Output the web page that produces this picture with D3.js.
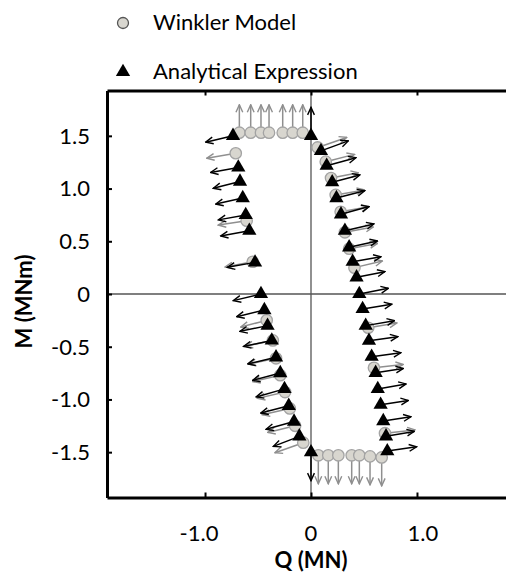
<!DOCTYPE html>
<html>
<head>
<meta charset="utf-8">
<script src="https://cdn.jsdelivr.net/npm/d3@7"></script>
<style>
  body { margin: 0; background: #fff; overflow: hidden; }
  svg { display: block; font-family: Lato, "Open Sans", sans-serif; }
</style>
</head>
<body>
<div id="chart"></div>
<script>
// Winkler model points: Q (MN), M (MNm) and the arrow (dQ, dM) drawn from each
const winklerQ = [-0.676, -0.569, -0.472, -0.396, -0.267, -0.173, -0.078,
  0.063, 0.139, 0.189, 0.233, 0.28, 0.32, 0.36, 0.41,
  0.54, 0.594, 0.698,
  0.069, 0.163, 0.258, 0.384, 0.456, 0.557, 0.667,
  -0.073, -0.15, -0.20, -0.245, -0.29, -0.33, -0.36, -0.418,
  -0.55, -0.607, -0.71];
const winklerM = [1.53, 1.53, 1.53, 1.53, 1.53, 1.53, 1.53,
  1.39, 1.255, 1.10, 0.94, 0.78, 0.585, 0.43, 0.25,
  -0.32, -0.70, -1.32,
  -1.53, -1.53, -1.53, -1.53, -1.53, -1.54, -1.55,
  -1.41, -1.25, -1.085, -0.93, -0.77, -0.61, -0.44, -0.25,
  0.306, 0.695, 1.335];
const winklerDQ = [0, 0, 0, 0, 0, 0, 0,
  0.274, 0.271, 0.258, 0.271, 0.267, 0.267, 0.267, 0.264,
  0.27, 0.276, 0.283,
  0, 0, 0, 0, 0, 0, 0,
  -0.267, -0.258, -0.26, -0.26, -0.26, -0.26, -0.26, -0.245,
  -0.26, -0.267, -0.274];
const winklerDM = [0.265, 0.265, 0.265, 0.265, 0.265, 0.265, 0.265,
  0.095, 0.069, 0.05, 0.047, 0.047, 0.05, 0.05, 0.063,
  0.045, 0.031, 0.031,
  -0.27, -0.27, -0.27, -0.27, -0.27, -0.27, -0.27,
  -0.095, -0.063, -0.06, -0.06, -0.06, -0.055, -0.055, -0.063,
  -0.05, -0.041, -0.047];

// Analytical expression points
const analyticalQ = [0, 0.094, 0.148, 0.20, 0.24, 0.283, 0.32, 0.36, 0.393, 0.43, 0.456,
  0.487, 0.516, 0.547, 0.572, 0.61, 0.63, 0.657, 0.682, 0.708, 0.72,
  0, -0.11, -0.16, -0.21, -0.25, -0.29, -0.33, -0.37, -0.41, -0.44, -0.472,
  -0.528, -0.582, -0.616, -0.644, -0.67, -0.686, -0.736];
const analyticalM = [1.5, 1.357, 1.217, 1.06, 0.91, 0.756, 0.60, 0.443, 0.306, 0.158, 0,
  -0.142, -0.30, -0.443, -0.595, -0.747, -0.90, -1.05, -1.205, -1.35, -1.49,
  -1.5, -1.35, -1.21, -1.06, -0.90, -0.75, -0.60, -0.44, -0.30, -0.152, 0,
  0.3, 0.6, 0.75, 0.91, 1.066, 1.2, 1.5];
const analyticalDQ = [0, 0.258, 0.276, 0.261, 0.267, 0.264, 0.274, 0.267, 0.267, 0.267, 0.274,
  0.274, 0.271, 0.271, 0.276, 0.261, 0.267, 0.261, 0.261, 0.267, 0.276,
  0, -0.245, -0.264, -0.264, -0.267, -0.261, -0.267, -0.267, -0.261, -0.261, -0.261,
  -0.261, -0.271, -0.258, -0.255, -0.252, -0.261, -0.258];
const analyticalDM = [0.27, 0.095, 0.076, 0.069, 0.069, 0.073, 0.064, 0.060, 0.047, 0.054, 0.054,
  0.045, 0.047, 0.038, 0.038, 0.041, 0.047, 0.041, 0.041, 0.047, 0.041,
  -0.27, -0.095, -0.073, -0.069, -0.076, -0.069, -0.063, -0.057, -0.054, -0.063, -0.063,
  -0.047, -0.050, -0.047, -0.057, -0.063, -0.047, -0.060];

const xTicks = [-1, 0, 1];
const xTickLabels = ['-1.0', '0', '1.0'];
const yTicks = [1.5, 1.0, 0.5, 0, -0.5, -1.0, -1.5];
const yTickLabels = ['1.5', '1.0', '0.5', '0', '-0.5', '-1.0', '-1.5'];
const seriesNames = ['Winkler Model', 'Analytical Expression'];

const width = 506, height = 576;
// the plot frame runs past the right edge of the picture
const margin = {top: 90.5, right: -9, bottom: 78.5, left: 107};
const fontSize = 22;

const svg = d3.select('#chart').append('svg')
  .attr('width', width)
  .attr('height', height);

const x = d3.scaleLinear()
  .domain([-1.925, 1.925])
  .range([margin.left, width - margin.right]);
const y = d3.scaleLinear()
  .domain([-1.93, 1.93])
  .range([height - margin.bottom, margin.top]);

const grayArrow = '#8f8f8f';

// arrow heads (open V)
const defs = svg.append('defs');
function addHead(id, color) {
  defs.append('marker')
    .attr('id', id)
    .attr('viewBox', '-9 -5 10 10')
    .attr('refX', 0).attr('refY', 0)
    .attr('markerWidth', 10).attr('markerHeight', 10)
    .attr('markerUnits', 'userSpaceOnUse')
    .attr('orient', 'auto')
    .append('path')
    .attr('d', 'M-7.5,-3.4L0,0L-7.5,3.4')
    .attr('fill', 'none')
    .attr('stroke', color)
    .attr('stroke-width', 1.4);
}
addHead('headGray', grayArrow);
addHead('headBlack', '#000');

// zero lines
svg.append('line')
  .attr('x1', x.range()[0]).attr('x2', x.range()[1])
  .attr('y1', y(0)).attr('y2', y(0))
  .attr('stroke', '#000').attr('stroke-width', 1.2);
svg.append('line')
  .attr('x1', x(0)).attr('x2', x(0))
  .attr('y1', y.range()[1]).attr('y2', y.range()[0])
  .attr('stroke', '#555').attr('stroke-width', 1.3);

// frame axes with inward ticks
const axisStyle = g => {
  g.select('.domain').attr('stroke', '#000').attr('stroke-width', 3);
  g.selectAll('.tick line').attr('stroke', '#000').attr('stroke-width', 2);
  g.selectAll('text').remove();
};
svg.append('g')
  .attr('transform', `translate(0,${y.range()[0]})`)
  .call(d3.axisTop(x).tickValues(xTicks).tickSizeInner(5).tickSizeOuter(0))
  .call(axisStyle);
svg.append('g')
  .attr('transform', `translate(0,${y.range()[1]})`)
  .call(d3.axisBottom(x).tickValues(xTicks).tickSizeInner(5).tickSizeOuter(0))
  .call(axisStyle);
svg.append('g')
  .attr('transform', `translate(${x.range()[0]},0)`)
  .call(d3.axisRight(y).tickValues(yTicks).tickSizeInner(5).tickSizeOuter(0))
  .call(axisStyle);

// tick labels (the outer x labels sit a little wider than their ticks)
svg.selectAll('.xlab')
  .data(xTicks)
  .enter().append('text')
  .attr('x', d => x(d) + Math.sign(d) * 6)
  .attr('y', 541)
  .attr('text-anchor', 'middle')
  .attr('font-size', fontSize)
  .text((d, i) => xTickLabels[i]);
svg.selectAll('.ylab')
  .data(yTicks)
  .enter().append('text')
  .attr('x', 90)
  .attr('y', d => y(d))
  .attr('dy', '0.36em')
  .attr('text-anchor', 'end')
  .attr('font-size', fontSize)
  .text((d, i) => yTickLabels[i]);

// axis titles
svg.append('text')
  .attr('x', x(0))
  .attr('y', 568)
  .attr('text-anchor', 'middle')
  .attr('font-size', fontSize)
  .attr('font-weight', 'bold')
  .text('Q (MN)');
svg.append('text')
  .attr('transform', 'translate(32,301.5) rotate(-90)')
  .attr('text-anchor', 'middle')
  .attr('font-size', fontSize)
  .attr('font-weight', 'bold')
  .text('M (MNm)');

const winkler = winklerQ.map((q, i) => ({q, m: winklerM[i], dq: winklerDQ[i], dm: winklerDM[i]}));
const analytical = analyticalQ.map((q, i) => ({q, m: analyticalM[i], dq: analyticalDQ[i], dm: analyticalDM[i]}));

// gray arrows, then circles
svg.append('g').selectAll('line')
  .data(winkler)
  .enter().append('line')
  .attr('x1', d => x(d.q)).attr('y1', d => y(d.m))
  .attr('x2', d => x(d.q + d.dq)).attr('y2', d => y(d.m + d.dm))
  .attr('stroke', grayArrow).attr('stroke-width', 1.5)
  .attr('marker-end', 'url(#headGray)');
svg.append('g').selectAll('circle')
  .data(winkler)
  .enter().append('circle')
  .attr('cx', d => x(d.q)).attr('cy', d => y(d.m))
  .attr('r', 5.7)
  .attr('fill', '#d8d6cf')
  .attr('stroke', '#a3a3a3').attr('stroke-width', 1.3);

// black arrows, then triangles
svg.append('g').selectAll('line')
  .data(analytical)
  .enter().append('line')
  .attr('x1', d => x(d.q)).attr('y1', d => y(d.m))
  .attr('x2', d => x(d.q + d.dq)).attr('y2', d => y(d.m + d.dm))
  .attr('stroke', '#000').attr('stroke-width', 1.5)
  .attr('marker-end', 'url(#headBlack)');
const tri = d3.symbol(d3.symbolTriangle, 88);
svg.append('g').selectAll('path')
  .data(analytical)
  .enter().append('path')
  .attr('transform', d => `translate(${x(d.q)},${y(d.m)})`)
  .attr('d', tri)
  .attr('fill', '#000');

// legend
const legend = svg.append('g');
legend.append('circle')
  .attr('cx', 123).attr('cy', 23).attr('r', 5.5)
  .attr('fill', '#d8d6cf').attr('stroke', '#555').attr('stroke-width', 1.3);
legend.append('path')
  .attr('transform', 'translate(123,72)')
  .attr('d', tri)
  .attr('fill', '#000');
legend.selectAll('text')
  .data(seriesNames)
  .enter().append('text')
  .attr('x', 153)
  .attr('y', (d, i) => 29.5 + i * 49)
  .attr('font-size', fontSize)
  .text(d => d);
</script>
</body>
</html>
